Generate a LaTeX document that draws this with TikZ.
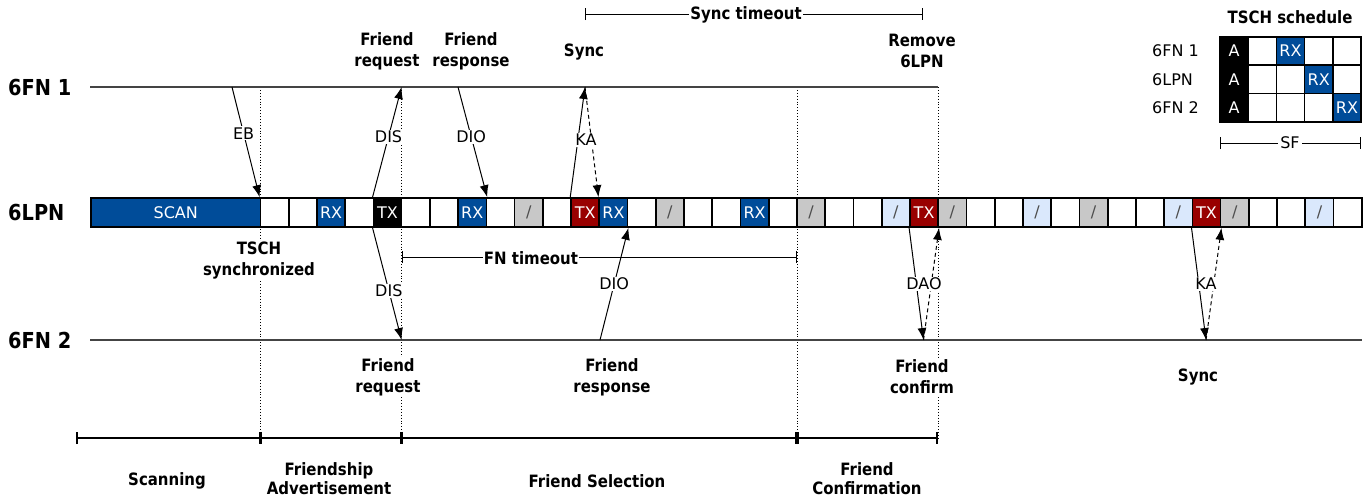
\documentclass[tikz,border=0pt]{standalone}
\usepackage{fontspec}
\setmainfont{DejaVu Sans}
\newfontfamily\cbold{DejaVu Sans}[FakeStretch=0.88]
\usetikzlibrary{arrows.meta}
\definecolor{rxblue}{RGB}{0,76,153}
\definecolor{txred}{RGB}{153,0,0}
\definecolor{slotgray}{RGB}{200,200,200}
\definecolor{slotlb}{RGB}{218,232,252}
\definecolor{linegray}{RGB}{68,68,68}
\begin{document}
\begin{tikzpicture}[x=1pt,y=-1pt,
  every node/.style={font=\fontsize{16}{19}\selectfont},
  slot/.style={draw=black, line width=1.7pt, minimum width=28.24pt, minimum height=29pt, inner sep=0pt, anchor=center},
  slotW/.style={slot, fill=white},
  slotRX/.style={slot, fill=rxblue, text=white},
  slotTXb/.style={slot, fill=black, text=white},
  slotTXr/.style={slot, fill=txred, text=white},
  slotG/.style={slot, fill=slotgray, text=black!70},
  slotL/.style={slot, fill=slotlb, text=black!70},
  cell/.style={minimum width=28.2pt, minimum height=28.3pt},
  lbl/.style={font=\cbold\bfseries\fontsize{17}{21}\selectfont, align=center, fill=white, inner sep=1pt},
  plbl/.style={lbl, font=\cbold\bfseries\fontsize{17}{19}\selectfont},
  nname/.style={font=\cbold\bfseries\fontsize{22}{26}\selectfont, anchor=west, inner sep=0pt},
  msg/.style={fill=white, inner sep=1pt},
  arr/.style={-{Latex[length=12pt,width=9pt]}, line width=1pt},
  darr/.style={arr, dash pattern=on 4pt off 3pt},
  vdot/.style={dotted, line width=0.9pt},
  tline/.style={draw=linegray, line width=2pt},
  brk/.style={{Bar[width=12pt]}-{Bar[width=12pt]}, line width=1pt},
  tlbar/.style={{Bar[width=12pt]}-{Bar[width=12pt]}, line width=1.8pt},
]
\useasboundingbox (0,0) rectangle (1367,499);

% node names
\node[nname] (n1) at (8,87) {6FN 1};
\node[nname] (nl) at (8,212) {6LPN};
\node[nname] (n2) at (8,340) {6FN 2};

% dotted phase boundaries
\coordinate (d1a) at (260.4,87);  \coordinate (d1b) at (260.4,438);
\coordinate (d2a) at (401.6,87);  \coordinate (d2b) at (401.6,438);
\coordinate (d3a) at (797.2,87);  \coordinate (d3b) at (797.2,438);
\coordinate (d4a) at (938.2,87);  \coordinate (d4b) at (938.2,438);
\draw[vdot] (d1a) -- (d1b);
\draw[vdot] (d2a) -- (d2b);
\draw[vdot] (d3a) -- (d3b);
\draw[vdot] (d4a) -- (d4b);

% node lines
\coordinate (f1a) at (90,87);  \coordinate (f1b) at (938.2,87);
\coordinate (f2a) at (90,340); \coordinate (f2b) at (1362,340);
\draw[tline] (f1a) -- (f1b);
\draw[tline] (f2a) -- (f2b);

% slot row
\node[slotRX, minimum width=169.44pt] (scan) at (175.72,212.5) {SCAN};
\foreach \i/\st/\tx in {0/slotW/{},1/slotW/{},2/slotRX/RX,3/slotW/{},4/slotTXb/TX,5/slotW/{},6/slotW/{},7/slotRX/RX,8/slotW/{},9/slotG/{/},
 10/slotW/{},11/slotTXr/TX,12/slotRX/RX,13/slotW/{},14/slotG/{/},15/slotW/{},16/slotW/{},17/slotRX/RX,18/slotW/{},19/slotG/{/},
 20/slotW/{},21/slotW/{},22/slotL/{/},23/slotTXr/TX,24/slotG/{/},25/slotW/{},26/slotW/{},27/slotL/{/},28/slotW/{},29/slotG/{/},
 30/slotW/{},31/slotW/{},32/slotL/{/},33/slotTXr/TX,34/slotG/{/},35/slotW/{},36/slotW/{},37/slotL/{/},38/slotW/{}}{
  \node[\st] (s\i) at ({260.44+(\i+0.5)*28.24},212.5) {\tx};
}

% messages
\coordinate (eb) at (232,87);
\draw[arr] (eb) -- (s0.north west) node[msg,pos=0.42] (lEB) {EB};
\coordinate (req1) at (401.6,87);
\draw[arr] (s4.north west) -- (req1) node[msg,pos=0.55] (lDIS1) {DIS};
\coordinate (req2) at (401.6,340);
\draw[arr] (s4.south west) -- (req2) node[msg,pos=0.56] (lDIS2) {DIS};
\coordinate (dio1) at (458,87);
\draw[arr] (dio1) -- (s7.north east) node[msg,pos=0.45] (lDIO1) {DIO};
\coordinate (sync1) at (585,87);
\draw[arr] (s11.north west) -- (sync1);
\draw[darr] (sync1) -- (s12.north west);
\node[msg] (lKA1) at (586,140) {KA};
\coordinate (dio2) at (600,340);
\draw[arr] (dio2) -- (s12.south east) node[msg,pos=0.5] (lDIO2) {DIO};
\coordinate (dao2) at (923.5,340);
\draw[arr] (s23.south west) -- (dao2);
\draw[darr] (dao2) -- (s23.south east);
\node[msg] (lDAO) at (924,284) {DAO};
\coordinate (ka2) at (1206,340);
\draw[arr] (s33.south west) -- (ka2);
\draw[darr] (ka2) -- (s33.south east);
\node[msg] (lKA2) at (1206,284) {KA};

% event labels
\node[lbl] (tFR) at (387,51) {Friend\\request};
\node[lbl] (tFS) at (471,51) {Friend\\response};
\node[lbl] (tSy) at (584,52) {Sync};
\node[lbl] (tRm) at (922,51) {Remove\\6LPN};
\node[lbl] (tTS) at (259,261) {TSCH\\synchronized};
\node[lbl] (bFR) at (388,377) {Friend\\request};
\node[lbl] (bFS) at (612,377) {Friend\\response};
\node[lbl] (bFC) at (922,377) {Friend\\confirm};
\node[lbl] (bSy) at (1198,377) {Sync};

% timeouts
\coordinate (st1) at (585,14); \coordinate (st2) at (923,14);
\draw[brk] (st1) -- (st2);
\node[lbl] (tST) at (746,15) {Sync timeout};
\coordinate (ft1) at (401.6,257); \coordinate (ft2) at (797.2,257);
\draw[brk] (ft1) -- (ft2);
\node[lbl] (tFT) at (531,258) {FN timeout};

% timeline
\coordinate (t0) at (76,438);
\coordinate (t1) at (260.4,438);
\coordinate (t2) at (401.6,438);
\coordinate (t3) at (797.2,438);
\coordinate (t4) at (938.2,438);
\draw[tlbar] (t0) -- (t1);
\draw[tlbar] (t1) -- (t2);
\draw[tlbar] (t2) -- (t3);
\draw[tlbar] (t3) -- (t4);
\node[plbl] (pSc) at (167,481) {Scanning};
\node[plbl] (pFA) at (329,479) {Friendship\\Advertisement};
\node[plbl] (pFS) at (597,481) {Friend Selection};
\node[plbl] (pFC) at (867,479) {Friend\\Confirmation};

% TSCH schedule
\node[lbl] (sTitle) at (1290,17) {TSCH schedule};
\node[anchor=west, inner sep=0pt] (r0) at (1152,51) {6FN 1};
\node[anchor=west, inner sep=0pt] (r1) at (1152,79.5) {6LPN};
\node[anchor=west, inner sep=0pt] (r2) at (1152,108) {6FN 2};
\foreach \r/\c/\st/\tx in {0/0/slotTXb/A,0/1/slotW/{},0/2/slotRX/RX,0/3/slotW/{},0/4/slotW/{},
 1/0/slotTXb/A,1/1/slotW/{},1/2/slotW/{},1/3/slotRX/RX,1/4/slotW/{},
 2/0/slotTXb/A,2/1/slotW/{},2/2/slotW/{},2/3/slotW/{},2/4/slotRX/RX}{
  \node[\st, cell] (g\r\c) at ({1220+(\c+0.5)*28.2},{37+(\r+0.5)*28.3}) {\tx};
}
\coordinate (sf1) at (1220,143); \coordinate (sf2) at (1361,143);
\draw[brk] (sf1) -- (sf2);
\node[fill=white, inner sep=2pt] (tSF) at (1290,143) {SF};
\end{tikzpicture}
\end{document}
